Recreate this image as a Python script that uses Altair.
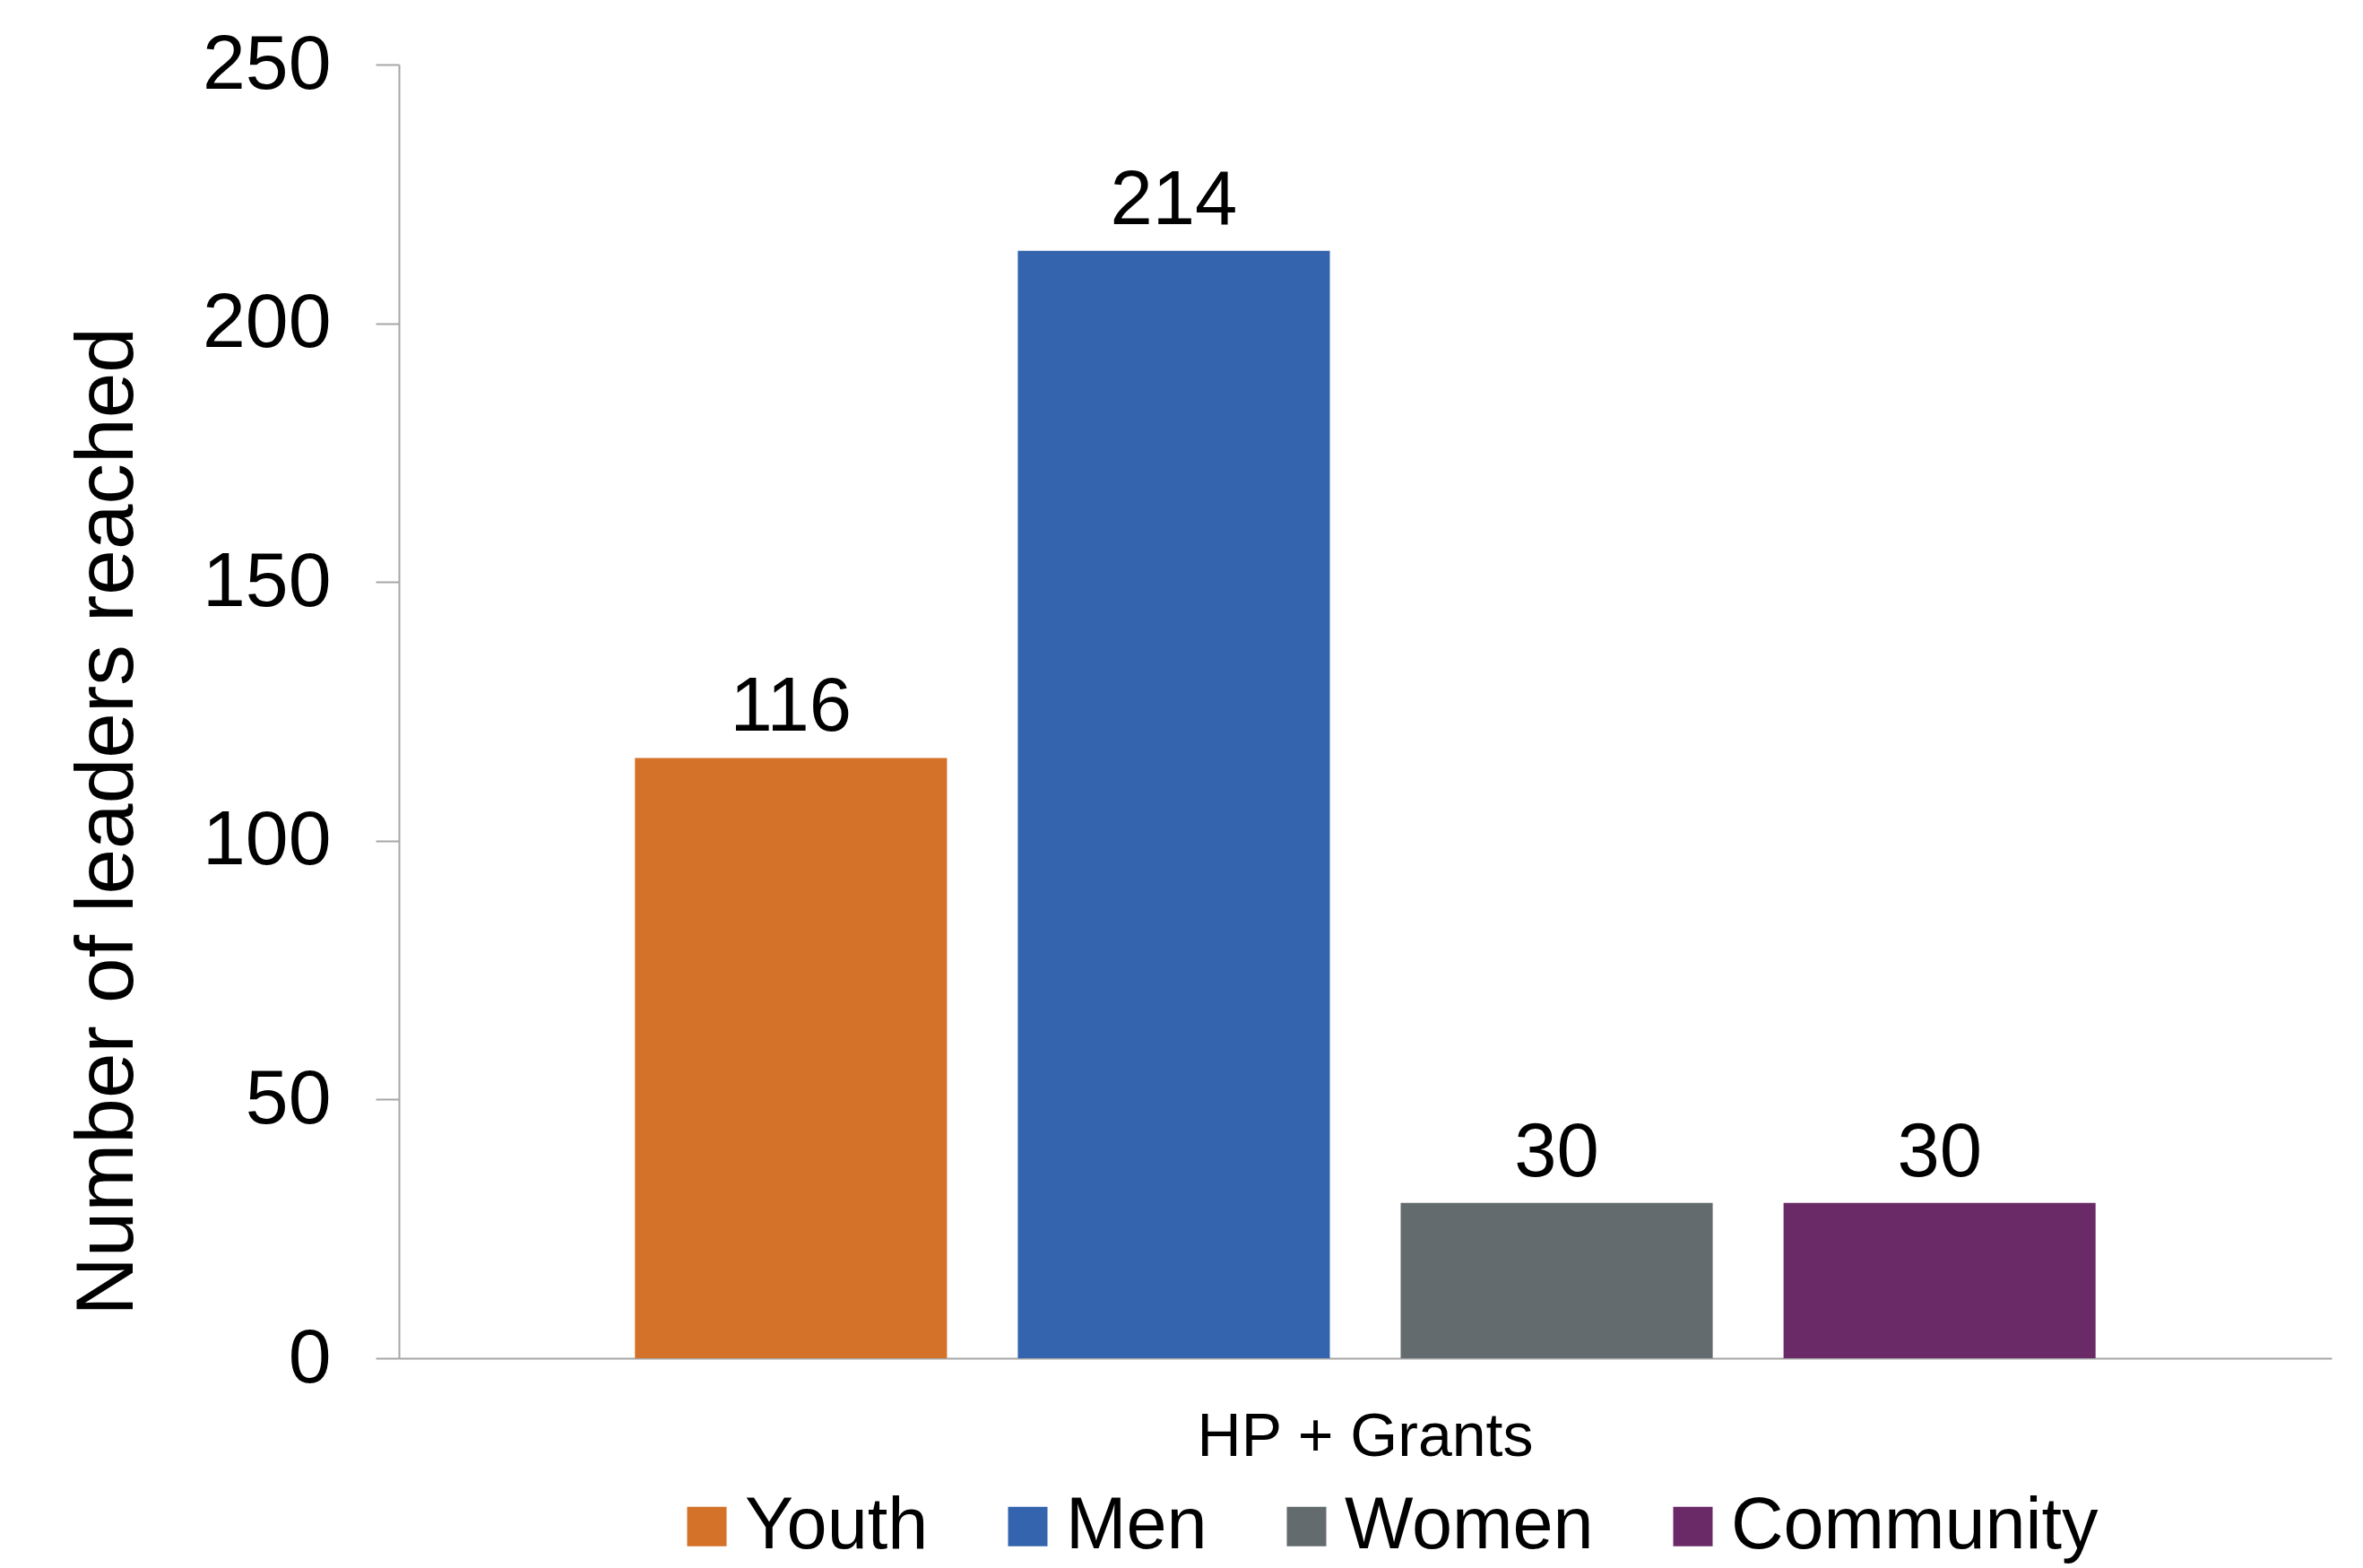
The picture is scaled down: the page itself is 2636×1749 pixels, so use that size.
import altair as alt
import pandas as pd

categories = ["Youth", "Men", "Women", "Community"]
values = [116, 214, 30, 30]
group_label = "HP + Grants"
colors = ["#D37228", "#3464AE", "#636B6E", "#6A2A67"]
y_ticks = [0, 50, 100, 150, 200, 250]

df = pd.DataFrame({
    "group": [group_label] * len(categories),
    "category": categories,
    "value": values,
})

FONT = "Liberation Sans"
y_scale = alt.Scale(domain=[0, 250], nice=False, zero=True)

x_enc = alt.X("group:N", title=None,
              scale=alt.Scale(paddingInner=0, paddingOuter=0.131),
              axis=alt.Axis(labelFontSize=68, labelFont=FONT, labelColor="black",
                            labelAngle=0, ticks=False, labelPadding=54, labelLimit=2000,
                            domainColor="#A6A6A6", domainWidth=2))
xo_enc = alt.XOffset("category:N", sort=categories,
                     scale=alt.Scale(paddingInner=0.185, paddingOuter=0.0925))

bars = alt.Chart(df).mark_bar().encode(
    x=x_enc,
    xOffset=xo_enc,
    y=alt.Y("value:Q",
            scale=y_scale,
            axis=alt.Axis(values=y_ticks, grid=False, labelFontSize=86, labelFont=FONT,
                          labelColor="black", tickSize=26, tickColor="#A6A6A6",
                          tickWidth=2, domainColor="#A6A6A6", domainWidth=2,
                          labelPadding=50,
                          title="Number of leaders reached", titleFont=FONT,
                          titleFontSize=91, titleFontWeight="normal", titleColor="black",
                          titleAngle=-90, titleX=-298, titleY=844,
                          titleAlign="center", titleBaseline="alphabetic")),
    color=alt.Color("category:N", sort=categories,
                    scale=alt.Scale(domain=categories, range=colors),
                    legend=alt.Legend(title=None, orient="none", direction="horizontal",
                                      legendX=303, legendY=1590, padding=0,
                                      symbolType="square", symbolSize=1936,
                                      symbolStrokeWidth=0, symbolOpacity=1,
                                      labelFont=FONT, labelFontSize=81,
                                      labelColor="black", labelOffset=2,
                                      columnPadding=70, labelLimit=1000)),
)

labels = alt.Chart(df).mark_text(baseline="alphabetic", dy=-30, font=FONT,
                                 fontSize=85, color="black").encode(
    x=alt.X("group:N"),
    xOffset=xo_enc,
    y=alt.Y("value:Q", scale=y_scale),
    text=alt.Text("value:Q"),
)

chart = alt.layer(bars, labels).properties(
    width=2156, height=1443,
    autosize=alt.AutoSizeParams(type="none"),
    padding={"left": 445, "top": 72, "right": 35, "bottom": 234},
    view=alt.ViewBackground(stroke="transparent", strokeWidth=0),
).configure_view(stroke="transparent", strokeWidth=0).configure(background="white")

chart.save("out.html", embed_options={"renderer": "svg", "actions": False})
